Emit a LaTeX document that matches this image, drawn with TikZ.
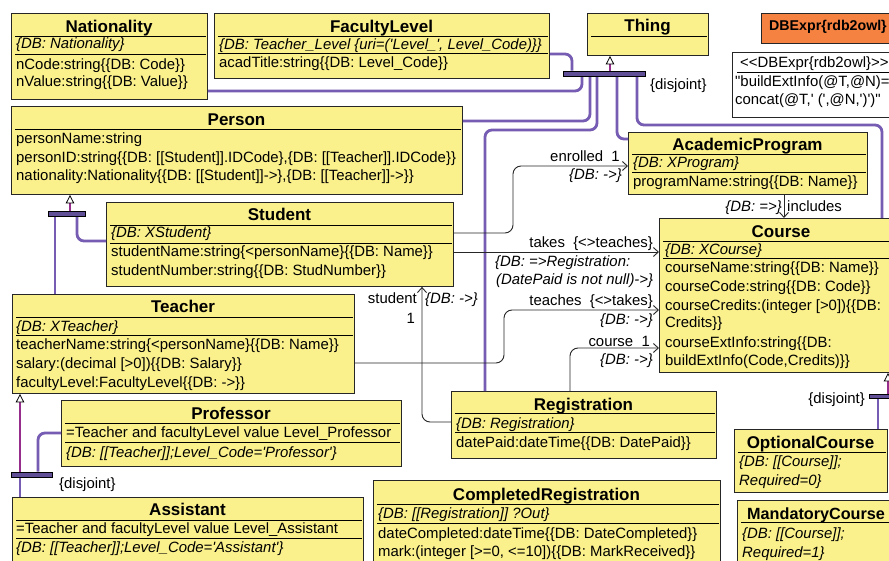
\documentclass[tikz,border=0pt]{standalone}
\usepackage{fontspec}
\setmainfont{Liberation Sans}
\usetikzlibrary{arrows.meta,calc}

\definecolor{umlyellow}{RGB}{250,240,140}
\definecolor{dborange}{RGB}{245,130,65}
\definecolor{genpurple}{RGB}{118,92,178}
\definecolor{stempurple}{RGB}{150,45,140}
\definecolor{barpurple}{RGB}{96,78,150}

\tikzset{
  clsbox/.style={draw=black!85, fill=umlyellow, line width=0.9pt, inner sep=0pt, anchor=north west},
  ttl/.style={font=\fontsize{17}{19}\selectfont\bfseries, inner sep=0pt, anchor=base},
  txt/.style={font=\fontsize{14.9}{17}\selectfont, inner sep=0pt, anchor=base west},
  dbt/.style={font=\fontsize{14.9}{17}\selectfont\itshape, inner sep=0pt, anchor=base west},
  rtxt/.style={txt, anchor=base east},
  rdbt/.style={dbt, anchor=base east},
  compsep/.style={line width=0.9pt, black},
  genline/.style={line width=2.8pt, genpurple, rounded corners=7pt},
  genstem/.style={line width=2.8pt, stempurple, -{Triangle[length=8.5pt,width=8.5pt,color=black,fill=white,line width=0.8pt]}},
  genbar/.style={draw=black, fill=barpurple, line width=0.7pt, inner sep=0pt, minimum height=5pt},
  assoc/.style={line width=0.9pt, black!85, rounded corners=8pt, -{Straight Barb[length=5pt,width=9pt]}},
}

% class box: name, left, top, right, bottom
\newcommand{\classbox}[5]{%
  \pgfmathsetmacro{\cbw}{#4-#2}%
  \pgfmathsetmacro{\cbh}{#5-#3}%
  \node[clsbox, minimum width=\cbw pt, minimum height=\cbh pt] (#1) at (#2,#3) {};}
% compartment separator inside a class box at height y
\newcommand{\compline}[2]{\draw[compsep] ($(#1.west |- 0,#2)+(4,0)$) -- ($(#1.east |- 0,#2)+(-2,0)$);}

\begin{document}
\begin{tikzpicture}[x=1pt,y=-1pt]
\useasboundingbox (0,0) rectangle (889,561);
\fill[white] (0,0) rectangle (889,561);
\clip (0,0) rectangle (889,561);

% ---------- classes ----------
\classbox{nat}{11}{13}{207}{99}
\node[ttl] (natT) at (109,33) {Nationality};
\compline{nat}{36}
\node[dbt] (natD) at (16,49) {\{DB: Nationality\}};
\compline{nat}{54}
\node[txt] (natA1) at (16,70) {nCode:string\{\{DB: Code\}\}};
\node[txt] (natA2) at (16,86.5) {nValue:string\{\{DB: Value\}\}};

\classbox{fac}{214}{13}{549}{78}
\node[ttl] (facT) at (381.5,33) {FacultyLevel};
\compline{fac}{36}
\node[dbt] (facD) at (219,50) {\{DB: Teacher\_Level \{uri=(\textquotesingle Level\_\textquotesingle, Level\_Code)\}\}};
\compline{fac}{53}
\node[txt] (facA1) at (219,68) {acadTitle:string\{\{DB: Level\_Code\}\}};

\classbox{thing}{587}{13}{708}{55}
\node[ttl] (thingT) at (647.5,32) {Thing};
\compline{thing}{36}

\node[draw=black!85, fill=dborange, line width=0.9pt, inner sep=0pt, anchor=north west,
      minimum width=150pt, minimum height=30pt] (dbexpr) at (761,13) {};
\node[font=\fontsize{14.2}{17}\selectfont\bfseries, inner sep=0pt, anchor=base west] (dbexprT) at (769,31) {DBExpr\{rdb2owl\}};

\node[draw=black!85, fill=white, line width=0.9pt, inner sep=0pt, anchor=north west,
      minimum width=175pt, minimum height=65pt] (note) at (732,52) {};
\node[txt] (noteT) at (740,68) {<{}<DBExpr\{rdb2owl\}>{}>};
\draw[compsep] ($(note.west |- 0,72)+(5,0)$) -- ($(note.east |- 0,72)+(-2,0)$);
\node[txt] (noteL1) at (735,87) {\textquotedbl buildExtInfo(@T,@N)=};
\node[txt] (noteL2) at (735,105) {concat(@T,\textquotesingle\ (\textquotesingle,@N,\textquotesingle)\textquotesingle)\textquotedbl};

\classbox{person}{11}{106}{462}{194}
\node[ttl] (personT) at (236.5,126) {Person};
\compline{person}{129}
\node[txt] (personA1) at (16,144) {personName:string};
\node[txt] (personA2) at (16,163) {personID:string\{\{DB: [[Student]].IDCode\},\{DB: [[Teacher]].IDCode\}\}};
\node[txt] (personA3) at (16,181) {nationality:Nationality\{\{DB: [[Student]]->\},\{DB: [[Teacher]]->\}\}};

\classbox{student}{106}{202}{453}{286}
\node[ttl] (studentT) at (279.5,221) {Student};
\compline{student}{225}
\node[dbt] (studentD) at (111,238) {\{DB: XStudent\}};
\compline{student}{243}
\node[txt] (studentA1) at (111,257) {studentName:string\{<personName\}\{\{DB: Name\}\}};
\node[txt] (studentA2) at (111,276) {studentNumber:string\{\{DB: StudNumber\}\}};

\classbox{teacher}{12}{294}{354}{393}
\node[ttl] (teacherT) at (183,313) {Teacher};
\compline{teacher}{317}
\node[dbt] (teacherD) at (16,331) {\{DB: XTeacher\}};
\compline{teacher}{335}
\node[txt] (teacherA1) at (16,349) {teacherName:string\{<personName\}\{\{DB: Name\}\}};
\node[txt] (teacherA2) at (16,368) {salary:(decimal [>0])\{\{DB: Salary\}\}};
\node[txt] (teacherA3) at (16,387) {facultyLevel:FacultyLevel\{\{DB: ->\}\}};

\classbox{acad}{628}{132}{867}{194}
\node[ttl] (acadT) at (747.5,151) {AcademicProgram};
\compline{acad}{154}
\node[dbt] (acadD) at (633,168) {\{DB: XProgram\}};
\compline{acad}{172}
\node[txt] (acadA1) at (633,187) {programName:string\{\{DB: Name\}\}};

\classbox{course}{659}{218}{903}{372}
\node[ttl] (courseT) at (781,238) {Course};
\compline{course}{241}
\node[dbt] (courseD) at (665,255) {\{DB: XCourse\}};
\compline{course}{258}
\node[txt] (courseA1) at (665,273) {courseName:string\{\{DB: Name\}\}};
\node[txt] (courseA2) at (665,292) {courseCode:string\{\{DB: Code\}\}};
\node[txt] (courseA3) at (665,311) {courseCredits:(integer [>0])\{\{DB:};
\node[txt] (courseA3b) at (665,328) {Credits\}\}};
\node[txt] (courseA4) at (665,348) {courseExtInfo:string\{\{DB:};
\node[txt] (courseA4b) at (665,365) {buildExtInfo(Code,Credits)\}\}};

\classbox{prof}{61}{400}{401}{466}
\node[ttl] (profT) at (231,419) {Professor};
\compline{prof}{423}
\node[txt] (profE) at (66,437) {=Teacher and facultyLevel value Level\_Professor};
\compline{prof}{442}
\node[dbt] (profD) at (66,457) {\{DB: [[Teacher]];Level\_Code=\textquotesingle Professor\textquotesingle\}};

\classbox{asst}{12}{497}{363}{580}
\node[ttl] (asstT) at (187.5,515) {Assistant};
\compline{asst}{520}
\node[txt] (asstE) at (16,533) {=Teacher and facultyLevel value Level\_Assistant};
\compline{asst}{538}
\node[dbt] (asstD) at (16,552) {\{DB: [[Teacher]];Level\_Code=\textquotesingle Assistant\textquotesingle\}};

\classbox{reg}{451}{391}{716}{458}
\node[ttl] (regT) at (583.5,410) {Registration};
\compline{reg}{413.5}
\node[dbt] (regD) at (456,428) {\{DB: Registration\}};
\compline{reg}{432}
\node[txt] (regA1) at (456,447) {datePaid:dateTime\{\{DB: DatePaid\}\}};

\classbox{compreg}{373}{480}{720}{580}
\node[ttl] (compregT) at (546.5,500.5) {CompletedRegistration};
\compline{compreg}{504}
\node[dbt] (compregD) at (378,518) {\{DB: [[Registration]] ?Out\}};
\compline{compreg}{523}
\node[txt] (compregA1) at (378,538) {dateCompleted:dateTime\{\{DB: DateCompleted\}\}};
\node[txt] (compregA2) at (378,556.5) {mark:(integer [>=0, <=10])\{\{DB: MarkReceived\}\}};

\classbox{optc}{734}{429}{887}{492}
\node[ttl] (optcT) at (810.5,448) {OptionalCourse};
\compline{optc}{452}
\node[dbt] (optcD1) at (739,466) {\{DB: [[Course]];};
\node[dbt] (optcD2) at (739,485) {Required=0\}};

\classbox{mandc}{737}{500}{903}{580}
\node[ttl, anchor=base west, font=\fontsize{16.2}{19}\selectfont\bfseries] (mandcT) at (747,519) {MandatoryCourse};
\compline{mandc}{522}
\node[dbt] (mandcD1) at (742,538.5) {\{DB: [[Course]];};
\node[dbt] (mandcD2) at (742,557) {Required=1\}};

% ---------- generalization sets ----------
\node[genbar, minimum width=82pt] (thingbar) at (604,73.5) {};
\node[genbar, minimum width=37pt] (pbar) at (66.5,214) {};
\node[genbar, minimum width=41pt] (tbar) at (31.5,474.5) {};
\node[genbar, minimum width=36pt, minimum height=4pt] (cbar) at (887,396) {};

\draw[genline] (fac.east |- 0,54) -| (thingbar.north -| 572,0);
\draw[genline] (nat.east |- 0,91) -| (thingbar.south -| 582,0);
\draw[genline] (person.east |- 0,121) -| (thingbar.south -| 590,0);
\draw[genline] (reg.north -| 485,0) |- (597,130) -- (thingbar.south -| 597,0);
\draw[genline] (thingbar.south -| 617,0) |- (acad.west |- 0,139);
\draw[genline] (thingbar.south -| 637,0) |- (882,125) -- (course.north -| 882,0);
\draw[genstem] (thingbar.north -| 610,0) -- (thing.south -| 610,0);
\node[txt] (thingdisj) at (650,90) {\{disjoint\}};

\draw[genline] (pbar.south -| 77,0) |- (student.west |- 0,241);
\draw[genline] (pbar.south -| 55,0) -- (teacher.north -| 55,0);
\draw[genstem] (pbar.north -| 70,0) -- (person.south -| 70,0);

\draw[genline] (tbar.south -| 20,0) -- (asst.north -| 20,0);
\draw[genline] (tbar.north -| 38,0) |- (prof.west |- 0,433);
\draw[genstem] (tbar.north -| 20,0) -- (teacher.south -| 20,0);
\node[txt] (teacherdisj) at (59,488) {\{disjoint\}};

\draw[genline] (cbar.south -| 878,0) -- (optc.north -| 878,0);
\draw[genstem] (cbar.north -| 888,0) -- (course.south -| 888,0);
\node[rtxt] (coursedisj) at (865,403) {\{disjoint\}};

% redraw bars on top of the line ends
\node[genbar, minimum width=82pt] at (thingbar) {};
\node[genbar, minimum width=37pt] at (pbar) {};
\node[genbar, minimum width=41pt] at (tbar) {};
\node[genbar, minimum width=36pt, minimum height=4pt] at (cbar) {};

% ---------- associations ----------
\draw[assoc] (student.east |- 0,233) -| (513,166) -- (acad.west |- 0,166);
\node[rtxt] (enrL) at (620,162) {enrolled\ \ 1};
\node[rdbt] (enrD) at (622,180) {\{DB: ->\}};

\draw[assoc] (acad.south -| 784,0) -- (course.north -| 784,0);
\node[rdbt] (inclD) at (782,212) {\{DB: =>\}};
\node[txt] (inclL) at (787,212) {includes};

\draw[assoc] (student.east |- 0,252) -- (course.west |- 0,252);
\node[rtxt] (takesL) at (653,248) {takes\ \ \{<>teaches\}};
\node[dbt] (takesD1) at (495,267) {\{DB: =>Registration:};
\node[dbt] (takesD2) at (496,285) {(DatePaid is not null)->\}};

\draw[assoc] (teacher.east |- 0,363) -| (504,310) -- (course.west |- 0,310);
\node[rtxt] (teachL) at (653,306) {teaches\ \ \{<>takes\}};
\node[rdbt] (teachD) at (653,325) {\{DB: ->\}};

\draw[assoc] (reg.north -| 570,0) |- (course.west |- 0,348);
\node[rtxt] (crsL) at (650,346) {course\ \ 1};
\node[rdbt] (crsD) at (653,364) {\{DB: ->\}};

\draw[assoc] (reg.west |- 0,422) -| (student.south -| 422,0);
\node[rtxt] (studL) at (417,304) {student};
\node[dbt] (studD) at (425,304) {\{DB: ->\}};
\node[rtxt] (studM) at (415,324) {1};

\end{tikzpicture}
\end{document}
